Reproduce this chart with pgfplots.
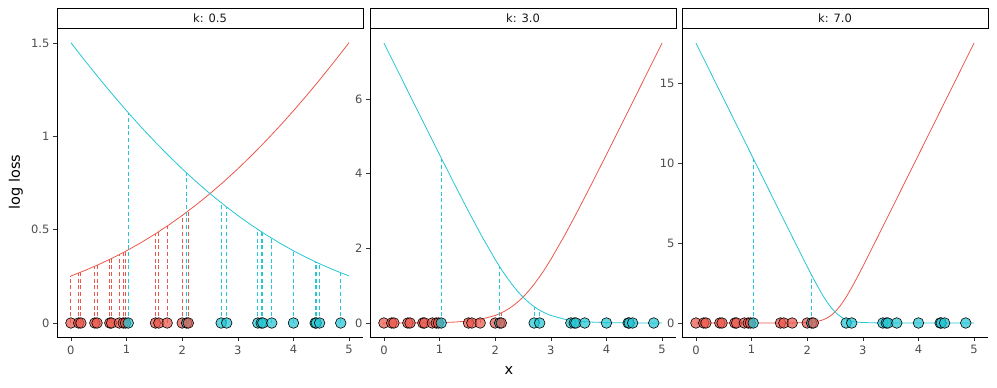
\documentclass[border=0pt]{standalone}
\usepackage{fontspec}
\setmainfont{DejaVu Sans}
\usepackage{pgfplots}
\pgfplotsset{compat=1.18}
\definecolor{cred}{HTML}{E9584C}
\definecolor{ccyan}{HTML}{26C6D4}
\definecolor{tickgray}{HTML}{4D4D4D}

\tikzset{
  strip/.style={draw=black, line width=0.8pt, fill=white, minimum width=306pt, minimum height=20pt, inner sep=0pt, anchor=south, font=\fontsize{11.5}{13}\selectfont, text=black!90},
}
\pgfplotsset{
  facet/.style={
    scale only axis, width=306pt, height=308pt,
    xmin=-0.25, xmax=5.25,
    axis x line*=bottom, axis y line*=left,
    axis line style={-, black, line width=0.8pt},
    xtick={0,1,2,3,4,5},
    tick align=outside, major tick length=4pt,
    tick style={black!80, line width=0.6pt},
    ticklabel style={font=\fontsize{11.5}{13}\selectfont, text=tickgray},
    xticklabel style={yshift=-1pt},
    /pgf/number format/assume math mode=true,
    clip=false, anchor=south west,
  },
  curve/.style={no marks, line width=0.8pt},
  rcomb/.style={ycomb, no marks, draw=cred, draw opacity=1, line width=0.9pt, dash pattern=on 4pt off 2.7pt},
  ccomb/.style={ycomb, no marks, draw=ccyan, draw opacity=1, line width=0.9pt, dash pattern=on 4pt off 2.7pt},
  redpts/.style={only marks, mark=*, mark size=5.3pt, mark options={draw=black, line width=0.6pt, fill=cred, fill opacity=0.72}},
  cyanpts/.style={only marks, mark=*, mark size=5.3pt, mark options={draw=black, line width=0.6pt, fill=ccyan, fill opacity=0.72}},
}

\begin{document}
\begin{tikzpicture}
\path[use as bounding box] (0,0) rectangle (997pt,388pt);

% ---------------- k = 0.5 ----------------
\begin{axis}[facet, at={(57pt,51pt)}, ymin=-0.075, ymax=1.575, ytick={0,0.5,1,1.5}]
\addplot[curve, color=cred] coordinates {(0,0.2519)(0.25,0.2812)(0.5,0.3133)(0.75,0.3484)(1,0.3869)(1.25,0.4287)(1.5,0.4741)(1.75,0.5232)(2,0.5759)(2.25,0.6326)(2.5,0.6931)(2.75,0.7576)(3,0.8259)(3.25,0.8982)(3.5,0.9741)(3.75,1.0537)(4,1.1369)(4.25,1.2234)(4.5,1.3133)(4.75,1.4062)(5,1.5019)};
\addplot[curve, color=ccyan] coordinates {(0,1.5019)(0.25,1.4062)(0.5,1.3133)(0.75,1.2234)(1,1.1369)(1.25,1.0537)(1.5,0.9741)(1.75,0.8982)(2,0.8259)(2.25,0.7576)(2.5,0.6931)(2.75,0.6326)(3,0.5759)(3.25,0.5232)(3.5,0.4741)(3.75,0.4287)(4,0.3869)(4.25,0.3484)(4.5,0.3133)(4.75,0.2812)(5,0.2519)};
\addplot[rcomb] coordinates {(0.00,0.2519)(0.14,0.2680)(0.18,0.2727)(0.43,0.3039)(0.47,0.3092)(0.70,0.3412)(0.73,0.3455)(0.87,0.3665)(0.94,0.3774)(0.98,0.3837)(1.52,0.4779)(1.58,0.4894)(1.73,0.5191)(2.00,0.5759)(2.11,0.6004)};
\addplot[ccomb] coordinates {(1.03,1.1268)(2.08,0.8037)(2.70,0.6444)(2.80,0.6210)(3.36,0.5011)(3.42,0.4894)(3.45,0.4836)(3.61,0.4537)(4.00,0.3869)(4.39,0.3284)(4.41,0.3256)(4.47,0.3173)(4.85,0.2691)};
\addplot[redpts] coordinates {(0.00,0)(0.14,0)(0.18,0)(0.43,0)(0.47,0)(0.70,0)(0.73,0)(0.87,0)(0.94,0)(0.98,0)(1.52,0)(1.58,0)(1.73,0)(2.00,0)};
\addplot[cyanpts] coordinates {(1.03,0)(2.08,0)(2.70,0)(2.80,0)(3.36,0)(3.42,0)(3.45,0)(3.61,0)(4.00,0)(4.39,0)(4.41,0)(4.47,0)(4.85,0)};
\addplot[redpts] coordinates {(2.11,0)};
\node[strip] at (rel axis cs:0.5,1) {k: 0.5};
\end{axis}

% ---------------- k = 3.0 ----------------
\begin{axis}[facet, at={(370pt,51pt)}, ymin=-0.375, ymax=7.875, ytick={0,2,4,6}]
\addplot[curve, color=cred] coordinates {(0,0.00055)(0.5,0.00248)(1.0,0.01105)(1.25,0.02325)(1.5,0.04859)(1.75,0.1002)(2.0,0.2014)(2.1,0.2633)(2.2,0.3412)(2.3,0.4375)(2.4,0.5544)(2.5,0.6931)(2.6,0.8544)(2.7,1.0375)(2.8,1.2412)(2.9,1.4633)(3.0,1.7014)(3.25,2.3502)(3.5,3.0486)(3.75,3.7733)(4.0,4.5111)(4.5,6.0025)(5.0,7.5006)};
\addplot[curve, color=ccyan] coordinates {(0,7.5006)(0.5,6.0025)(1.0,4.5111)(1.25,3.7733)(1.5,3.0486)(1.75,2.3502)(2.0,1.7014)(2.1,1.4633)(2.2,1.2412)(2.3,1.0375)(2.4,0.8544)(2.5,0.6931)(2.6,0.5544)(2.7,0.4375)(2.8,0.3412)(2.9,0.2633)(3.0,0.2014)(3.25,0.1002)(3.5,0.04859)(3.75,0.02325)(4.0,0.01105)(4.5,0.00248)(5.0,0.00055)};
\addplot[rcomb] coordinates {(0.00,0.00055)(0.14,0.00084)(0.18,0.00095)(0.43,0.0020)(0.47,0.0023)(0.70,0.0045)(0.73,0.0049)(0.87,0.0075)(0.94,0.0092)(0.98,0.0104)(1.52,0.0515)(1.58,0.0614)(1.73,0.0947)(2.00,0.2014)(2.11,0.2704)};
\addplot[ccomb] coordinates {(1.03,4.422)(2.08,1.5097)(2.70,0.4375)(2.80,0.3412)(3.36,0.0730)(3.42,0.0614)(3.45,0.0562)(3.61,0.0352)(4.00,0.0110)(4.39,0.0034)(4.41,0.0032)(4.47,0.0027)(4.85,0.00087)};
\addplot[redpts] coordinates {(0.00,0)(0.14,0)(0.18,0)(0.43,0)(0.47,0)(0.70,0)(0.73,0)(0.87,0)(0.94,0)(0.98,0)(1.52,0)(1.58,0)(1.73,0)(2.00,0)};
\addplot[cyanpts] coordinates {(1.03,0)(2.08,0)(2.70,0)(2.80,0)(3.36,0)(3.42,0)(3.45,0)(3.61,0)(4.00,0)(4.39,0)(4.41,0)(4.47,0)(4.85,0)};
\addplot[redpts] coordinates {(2.11,0)};
\node[strip] at (rel axis cs:0.5,1) {k: 3.0};
\end{axis}

% ---------------- k = 7.0 ----------------
\begin{axis}[facet, at={(682pt,51pt)}, ymin=-0.875, ymax=18.375, ytick={0,5,10,15}]
\addplot[curve, color=cred] coordinates {(0,0)(1.0,0.00003)(1.5,0.00091)(1.75,0.00523)(2.0,0.02975)(2.05,0.04196)(2.1,0.05903)(2.15,0.08277)(2.2,0.11552)(2.25,0.16022)(2.3,0.22040)(2.35,0.30006)(2.4,0.40319)(2.45,0.53339)(2.5,0.69315)(2.55,0.88339)(2.6,1.10319)(2.65,1.35006)(2.7,1.62040)(2.75,1.91022)(2.8,2.21552)(2.85,2.53277)(2.9,2.85903)(2.95,3.19196)(3.0,3.52975)(3.25,5.25523)(3.5,7.00091)(4.0,10.50003)(5.0,17.5)};
\addplot[curve, color=ccyan] coordinates {(0,17.5)(1.0,10.50003)(1.5,7.00091)(1.75,5.25523)(2.0,3.52975)(2.05,3.19196)(2.1,2.85903)(2.15,2.53277)(2.2,2.21552)(2.25,1.91022)(2.3,1.62040)(2.35,1.35006)(2.4,1.10319)(2.45,0.88339)(2.5,0.69315)(2.55,0.53339)(2.6,0.40319)(2.65,0.30006)(2.7,0.22040)(2.75,0.16022)(2.8,0.11552)(2.85,0.08277)(2.9,0.05903)(2.95,0.04196)(3.0,0.02975)(3.25,0.00523)(3.5,0.00091)(4.0,0.00003)(5.0,0)};
\addplot[rcomb] coordinates {(1.52,0.00105)(1.58,0.0016)(1.73,0.0046)(2.00,0.0298)(2.11,0.0632)};
\addplot[ccomb] coordinates {(1.03,10.29)(2.08,2.9915)(2.70,0.2204)(2.80,0.1155)(3.36,0.0024)(3.42,0.0016)(3.45,0.0013)(3.61,0.0004)};
\addplot[redpts] coordinates {(0.00,0)(0.14,0)(0.18,0)(0.43,0)(0.47,0)(0.70,0)(0.73,0)(0.87,0)(0.94,0)(0.98,0)(1.52,0)(1.58,0)(1.73,0)(2.00,0)};
\addplot[cyanpts] coordinates {(1.03,0)(2.08,0)(2.70,0)(2.80,0)(3.36,0)(3.42,0)(3.45,0)(3.61,0)(4.00,0)(4.39,0)(4.41,0)(4.47,0)(4.85,0)};
\addplot[redpts] coordinates {(2.11,0)};
\node[strip] at (rel axis cs:0.5,1) {k: 7.0};
\end{axis}

\node[rotate=90, font=\fontsize{14.5}{16}\selectfont] at (16pt,206pt) {log loss};
\node[font=\fontsize{14.5}{16}\selectfont] at (509pt,17pt) {x};
\end{tikzpicture}
\end{document}
